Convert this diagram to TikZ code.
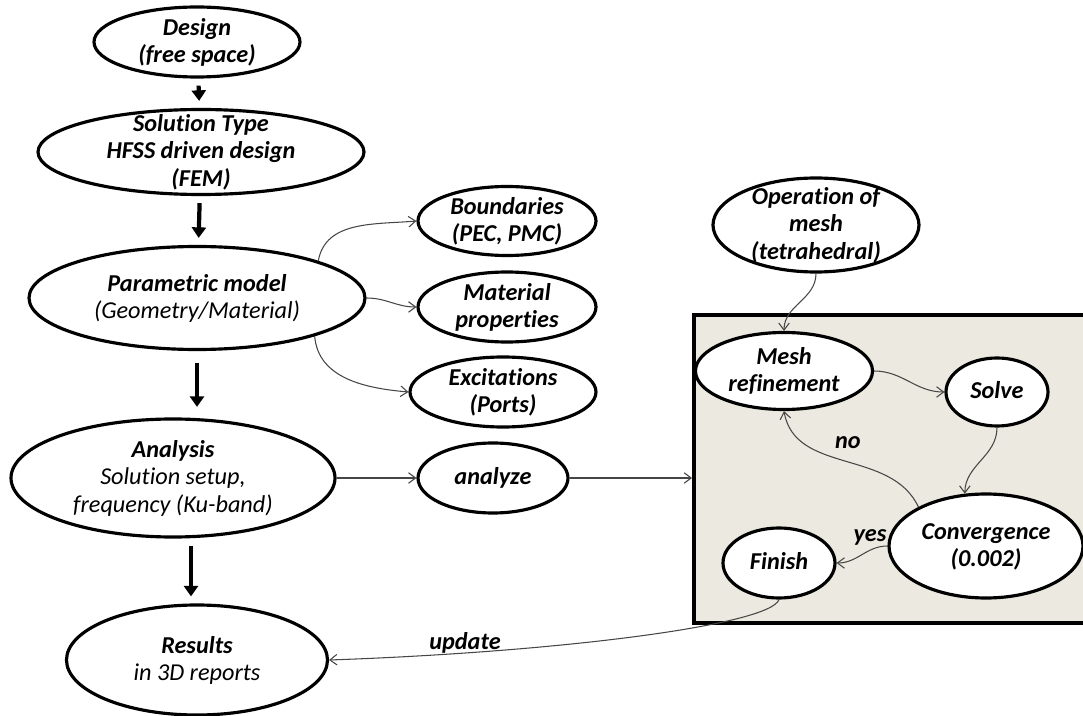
\documentclass[tikz,border=0pt]{standalone}
\usepackage{fontspec}
\setmainfont{Carlito}[Ligatures=NoCommon]
\usepackage{tikz}
\usetikzlibrary{arrows.meta, shapes.geometric}

\definecolor{loopfill}{RGB}{236,233,224}
\definecolor{linkgray}{RGB}{70,70,70}

% text of an oval, taking no room of its own
\newcommand{\inoval}[1]{\makebox[0pt]{\lower1.6pt\vbox to 0pt{\vss\hbox{\begin{tabular}{@{}c@{}}#1\end{tabular}}\vss}}}

\begin{document}
\begin{tikzpicture}[x=0.02cm, y=-0.02cm,
    oval/.style 2 args={ellipse, draw, line width=1.8pt, fill=white, inner sep=0pt,
      minimum width=#1*0.02cm, minimum height=#2*0.02cm},
    every node/.style={font=\fontsize{13.8}{15.6}\selectfont\bfseries\itshape},
    bigarrow/.style={-{Triangle[length=6pt, width=8pt]}, line width=2.4pt, shorten <=4pt, shorten >=4pt},
    link/.style={-{Straight Barb[length=4pt, width=6pt]}, linkgray, line width=0.6pt}]
    \useasboundingbox (0,0) rectangle (1083,716);

    % simulation loop
    \draw[line width=1.8pt, fill=loopfill] (694,315) rectangle (1160,623);

    \node[oval={206}{70}] (design) at (197,42){\inoval{Design\\(free space)}};
    \node[oval={326}{85}] (soltype) at (201,152){\inoval{Solution Type\\HFSS driven design\\(FEM)}};
    \node[oval={336}{103}] (param) at (197,298){\inoval{Parametric model\\{\mdseries(Geometry/Material)}}};
    \node[oval={324}{118}] (analysis) at (173,478){\inoval{Analysis\\{\mdseries Solution setup,}\\{\mdseries frequency (Ku-band)}}};
    \node[oval={261}{110}] (results) at (197,660){\inoval{Results\\{\mdseries in 3D reports}}};

    \node[oval={178}{69}] (bound) at (507,221){\inoval{Boundaries\\(PEC, PMC)}};
    \node[oval={178}{70}] (mater) at (507,307){\inoval{Material\\properties}};
    \node[oval={186}{70}] (excit) at (503,392){\inoval{Excitations\\(Ports)}};
    \node[oval={150}{70}] (analyze) at (493,478){\inoval{analyze}};

    \node[oval={206}{94}] (opmesh) at (816,225){\inoval{Operation of\\mesh\\(tetrahedral)}};
    \node[oval={177}{77}] (refine) at (784,371){\inoval{Mesh\\refinement}};
    \node[oval={102}{68}] (solve) at (997,392){\inoval{Solve}};
    \node[oval={194}{104}] (conv) at (986,546){\inoval{Convergence\\(0.002)}};
    \node[oval={112}{70}] (finish) at (779,563){\inoval{Finish}};

    \draw[bigarrow] (design)--(soltype);
    \draw[bigarrow] (soltype)--(param);
    \draw[bigarrow, shorten <=6.5pt, shorten >=6pt] (param.south)--(param.south |- analysis.north);
    \draw[bigarrow] ([xshift=-0.12cm]analysis.south -| results.north)--([xshift=-0.12cm]results.north);

    \draw[link] (param.17) to[out=80, in=185] (bound.west);
    \draw[link] (param.east) to[out=0, in=180] (mater.west);
    \draw[link] (param.-18) to[out=-85, in=175] (excit.west);
    \draw[link] (analysis.east)--(analyze.west);
    \draw[link] (analyze.east)--(analyze.east -| 692,0);

    \draw[link] (opmesh.south) to[out=-90, in=90] (refine.north);
    \draw[link] (refine.east) to[out=0, in=180] (solve.west);
    \draw[link] (solve.south) to[out=-90, in=90] (conv.112);
    \draw[link] (conv.150) to[out=115, in=-80] (refine.south);
    \draw[link] (conv.west) to[out=180, in=0] (finish.east);
    \draw[link] (finish.south) .. controls (770,625) and (560,652) .. (results.east);

    \node (no) at (848,443){no};
    \node (yes) at (870,537){yes};
    \node (update) at (465,643){update};
  \end{tikzpicture}
\end{document}
